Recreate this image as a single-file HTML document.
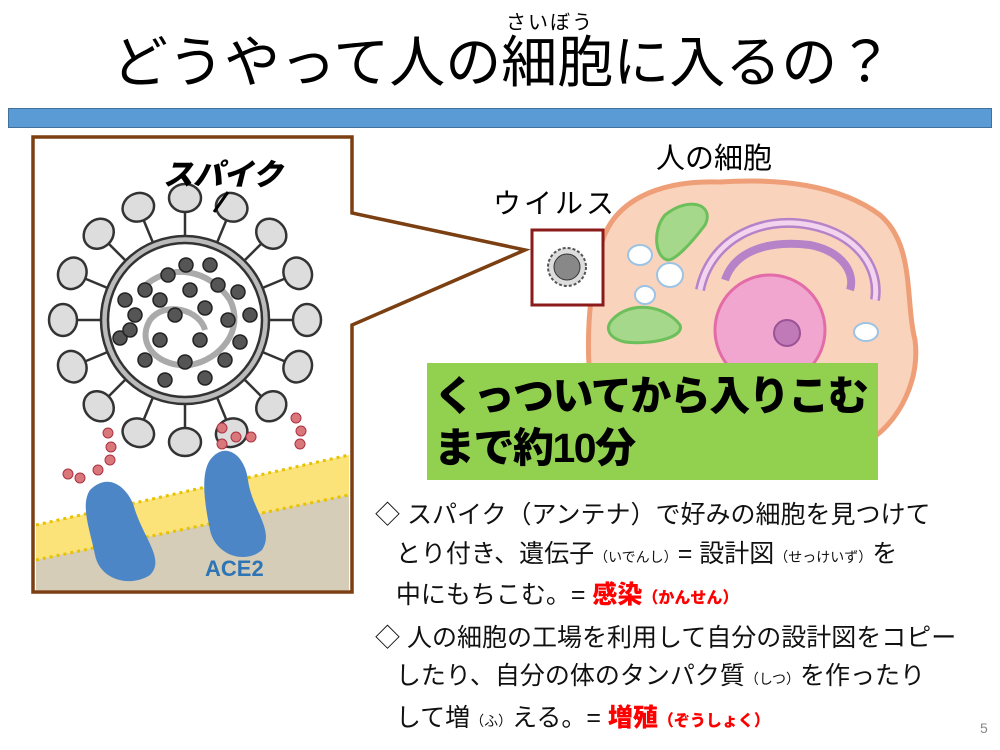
<!DOCTYPE html>
<html><head><meta charset="utf-8"><style>
body{margin:0;width:1000px;height:750px;background:#fff;position:relative;overflow:hidden;font-family:"Liberation Sans","Noto Sans CJK JP",sans-serif;}
.a{position:absolute;white-space:nowrap;}
.t{font-size:25px;color:#111;left:0;}
.s{font-size:14px;}
.r{color:#f00;font-weight:900;}
</style></head><body>
<div class="a" style="left:112px;top:28px;font-size:56px;line-height:70px;color:#000;letter-spacing:0px">どうやって人の細胞に入るの？</div>
<div class="a" style="left:506px;top:6px;font-size:20px;color:#000;letter-spacing:2px">さいぼう</div>
<div class="a" style="left:8px;top:108px;width:982px;height:18px;background:#5b9bd5;border:1px solid #41719c"></div>

<svg class="a" style="left:0;top:0" width="1000" height="750">
 <path d="M600,250 C610,200 660,180 720,182 C780,178 840,185 880,215 C915,245 905,300 915,340 C920,380 900,420 870,440 L600,440 C590,400 580,330 600,250 Z" fill="#fad3bd" stroke="#ee9f77" stroke-width="5"/>
 <path d="M665,215 C690,195 715,205 705,225 C690,245 675,260 668,260 C655,258 652,230 665,215Z" fill="#a5d88a" stroke="#6cbf5a" stroke-width="3"/>
 <path d="M612,320 C630,300 665,305 680,325 C685,338 650,345 625,342 C608,338 605,328 612,320Z" fill="#a5d88a" stroke="#6cbf5a" stroke-width="3"/>
 <circle cx="770" cy="330" r="55" fill="#f1a6cf" stroke="#e26ba8" stroke-width="3"/>
 <circle cx="787" cy="333" r="13" fill="#c07ab8" stroke="#9b5296" stroke-width="2"/>
 <path d="M700,290 C710,240 760,215 810,225 C860,235 880,270 875,300" fill="none" stroke="#b682c8" stroke-width="10"/>
 <path d="M700,290 C710,240 760,215 810,225 C860,235 880,270 875,300" fill="none" stroke="#f3d4ee" stroke-width="5"/>
 <path d="M725,280 C735,250 770,240 810,245 C845,252 855,275 850,290" fill="none" stroke="#b682c8" stroke-width="8"/>
 <ellipse cx="640" cy="255" rx="12" ry="10" fill="#fff" stroke="#9cc3e4" stroke-width="2"/>
 <ellipse cx="670" cy="275" rx="13" ry="12" fill="#fff" stroke="#9cc3e4" stroke-width="2"/>
 <ellipse cx="645" cy="295" rx="10" ry="9" fill="#fff" stroke="#9cc3e4" stroke-width="2"/>
 <ellipse cx="866" cy="332" rx="12" ry="9" fill="#fff" stroke="#9cc3e4" stroke-width="2"/>
 <path d="M352,213 L352,137 L33,137 L33,592 L352,592 L352,325 L525,250 Z" fill="#fff" stroke="#7b3f12" stroke-width="3.5"/>
 <rect x="532" y="230" width="71" height="75" fill="#fff" stroke="#8b1a1a" stroke-width="3"/>
 <circle cx="567" cy="267" r="19" fill="#ddd" stroke="#555" stroke-width="2" stroke-dasharray="3 2"/>
 <circle cx="567" cy="267" r="13" fill="#888" stroke="#333" stroke-width="1"/>
 <path d="M36,525 L349,455 L349,590 L36,590 Z" fill="#fbe37a"/>
 <path d="M36,560 L349,495 L349,590 L36,590 Z" fill="#d5cdb7"/>
 <path d="M36,525 L349,455" stroke="#e6c200" stroke-width="3" stroke-dasharray="3 4"/>
 <path d="M36,560 L349,495" stroke="#e6c200" stroke-width="3" stroke-dasharray="3 4"/>
 <g stroke="#333" stroke-width="2.5" fill="#ddd">
  <g id="sp"><line x1="185" y1="235" x2="185" y2="210"/><ellipse cx="185" cy="198" rx="16" ry="14"/></g>
  <use href="#sp" transform="rotate(22.5 185 320)"/><use href="#sp" transform="rotate(45 185 320)"/>
  <use href="#sp" transform="rotate(67.5 185 320)"/><use href="#sp" transform="rotate(90 185 320)"/>
  <use href="#sp" transform="rotate(112.5 185 320)"/><use href="#sp" transform="rotate(135 185 320)"/>
  <use href="#sp" transform="rotate(157.5 185 320)"/><use href="#sp" transform="rotate(180 185 320)"/>
  <use href="#sp" transform="rotate(202.5 185 320)"/><use href="#sp" transform="rotate(225 185 320)"/>
  <use href="#sp" transform="rotate(247.5 185 320)"/><use href="#sp" transform="rotate(270 185 320)"/>
  <use href="#sp" transform="rotate(292.5 185 320)"/><use href="#sp" transform="rotate(315 185 320)"/>
  <use href="#sp" transform="rotate(337.5 185 320)"/>
 </g>
 <circle cx="185" cy="320" r="84" fill="#bbb" stroke="#333" stroke-width="2.5"/>
 <circle cx="185" cy="320" r="77" fill="#fff" stroke="#333" stroke-width="2.5"/>
 <path d="M140,290 C170,260 210,270 230,300 C245,330 220,360 190,365 C160,368 135,345 150,320 C165,300 200,310 205,330" fill="none" stroke="#aaa" stroke-width="6"/>
 <g fill="#555" stroke="#222" stroke-width="1.5">
  <circle cx="186" cy="265" r="7"/><circle cx="210" cy="265" r="7"/><circle cx="168" cy="275" r="7"/><circle cx="218" cy="285" r="7"/>
  <circle cx="145" cy="290" r="7"/><circle cx="190" cy="290" r="7"/><circle cx="238" cy="292" r="7"/><circle cx="160" cy="300" r="7"/>
  <circle cx="125" cy="300" r="7"/><circle cx="205" cy="308" r="7"/><circle cx="250" cy="315" r="7"/><circle cx="135" cy="315" r="7"/>
  <circle cx="175" cy="315" r="7"/><circle cx="228" cy="320" r="7"/><circle cx="120" cy="338" r="7"/><circle cx="160" cy="340" r="7"/>
  <circle cx="200" cy="340" r="7"/><circle cx="240" cy="342" r="7"/><circle cx="145" cy="360" r="7"/><circle cx="185" cy="362" r="7"/>
  <circle cx="225" cy="360" r="7"/><circle cx="165" cy="380" r="7"/><circle cx="205" cy="378" r="7"/><circle cx="130" cy="330" r="7"/>
 </g>
 <line x1="228" y1="192" x2="214" y2="212" stroke="#000" stroke-width="3"/>
 <path d="M90,490 C110,470 130,490 135,510 C145,540 165,560 150,575 C130,588 100,580 95,555 C90,530 80,505 90,490Z" fill="#4d86c6"/>
 <path d="M210,460 C225,440 245,455 248,480 C252,510 275,530 262,550 C245,565 215,555 210,530 C205,505 200,475 210,460Z" fill="#4d86c6"/>
 <g fill="#d9777a" stroke="#a34" stroke-width="1">
  <circle cx="108" cy="433" r="5"/><circle cx="111" cy="447" r="5"/><circle cx="110" cy="460" r="5"/><circle cx="98" cy="470" r="5"/><circle cx="80" cy="478" r="5"/><circle cx="68" cy="474" r="5"/>
  <circle cx="222" cy="428" r="5"/><circle cx="236" cy="437" r="5"/><circle cx="251" cy="437" r="5"/><circle cx="222" cy="444" r="5"/>
  <circle cx="296" cy="418" r="5"/><circle cx="301" cy="431" r="5"/><circle cx="300" cy="444" r="5"/>
 </g>
</svg>
<div class="a" style="left:163px;top:150px;font-size:30px;font-weight:900;font-style:italic;color:#000">スパイク</div>
<div class="a" style="left:205px;top:556px;font-size:22px;font-weight:bold;color:#2e75b6">ACE2</div>
<div class="a" style="left:493px;top:182px;font-size:28px;color:#000;letter-spacing:3px">ウイルス</div>
<div class="a" style="left:656px;top:135px;font-size:29px;color:#000">人の細胞</div>
<div class="a" style="left:427px;top:363px;width:451px;height:117px;background:#92d050"></div>
<div class="a" style="left:434px;top:370px;font-size:41px;line-height:52px;font-weight:900;color:#000;letter-spacing:-1.5px">くっついてから入りこむ<br>まで約10分</div>
<div class="a" style="left:375px;top:496px;line-height:38.5px">
<div class="t">◇ スパイク（アンテナ）で好みの細胞を見つけて</div>
<div class="t">&nbsp;&nbsp;&nbsp;とり付き、遺伝子<span class="s">（いでんし）</span>= 設計図<span class="s">（せっけいず）</span>を</div>
<div class="t">&nbsp;&nbsp;&nbsp;中にもちこむ。= <span class="r">感染<span style="font-size:16px">（かんせん）</span></span></div>
<div class="t">◇ 人の細胞の工場を利用して自分の設計図をコピー</div>
<div class="t">&nbsp;&nbsp;&nbsp;したり、自分の体のタンパク質<span class="s">（しつ）</span>を作ったり</div>
<div class="t">&nbsp;&nbsp;&nbsp;して増<span class="s">（ふ）</span>える。= <span class="r">増殖<span style="font-size:16px">（ぞうしょく）</span></span></div>
</div>
<div class="a" style="left:980px;top:720px;font-size:14px;color:#888">5</div>
</body></html>
